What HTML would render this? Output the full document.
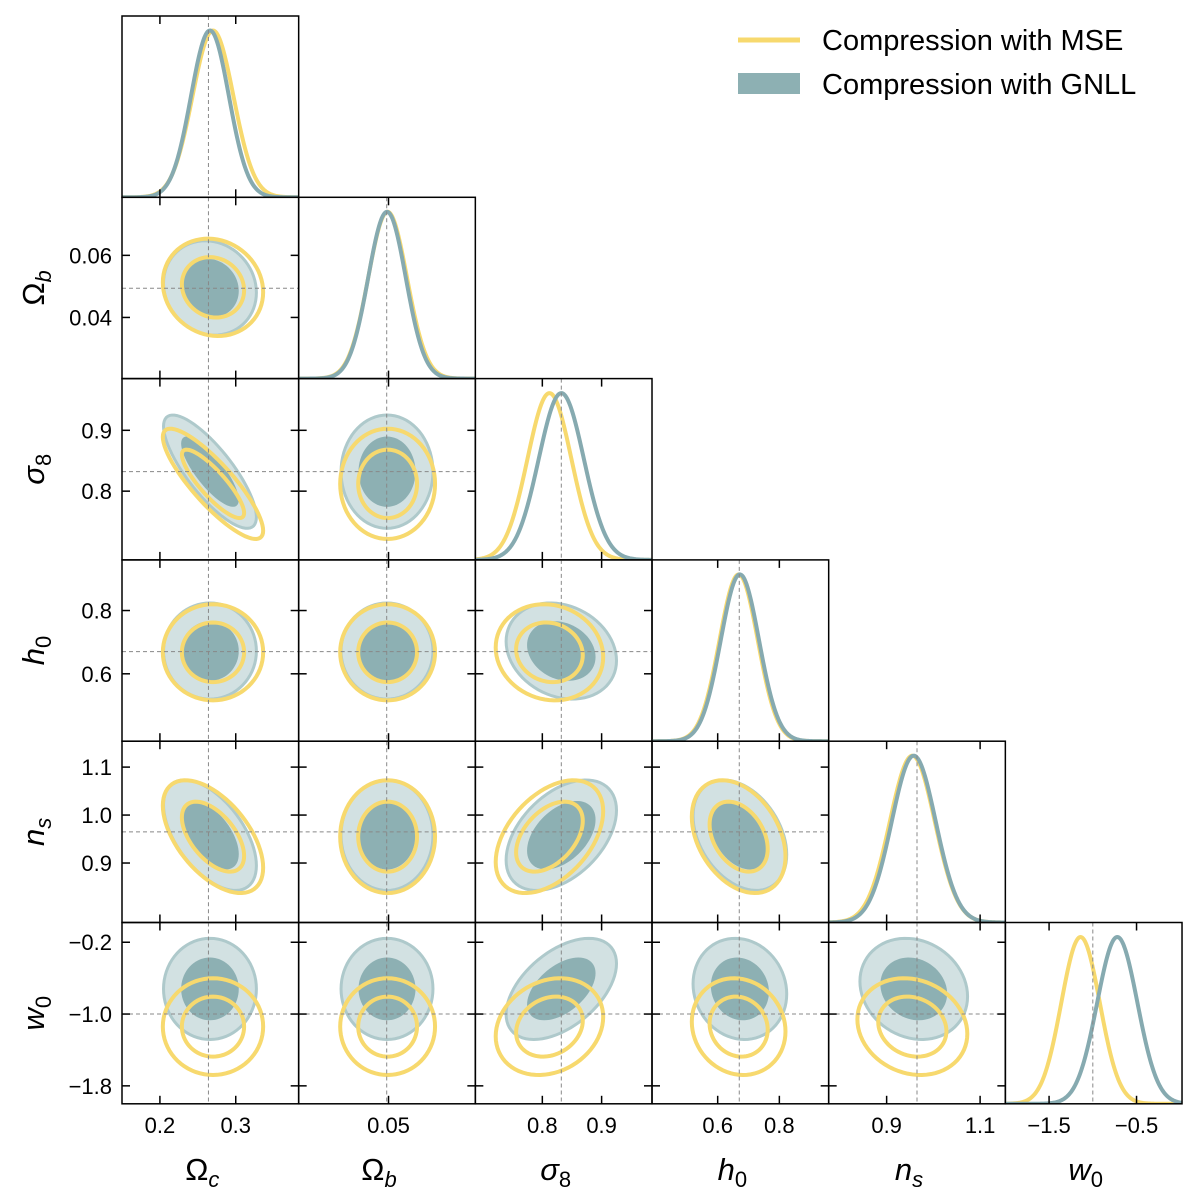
<!DOCTYPE html>
<html><head><meta charset="utf-8"><style>
html,body{margin:0;padding:0;background:#fff;}
svg{display:block;font-family:"Liberation Sans","DejaVu Sans",sans-serif;}
</style></head><body>
<svg id="chart" width="1200" height="1200" viewBox="0 0 1200 1200" xmlns="http://www.w3.org/2000/svg">
<g id="legend">
  <line x1="738" y1="40" x2="800" y2="40" stroke="#f7d96e" stroke-width="5"/>
  <text x="822" y="50" font-size="29" fill="#000">Compression with MSE</text>
  <rect x="738" y="73" width="62" height="21" fill="#8db0b3"/>
  <text x="822" y="94" font-size="29" fill="#000">Compression with GNLL</text>
</g>
</svg>
<script>
const paramNames = ['Omega_c','Omega_b','sigma_8','h_0','n_s','w_0'];
const lo = [0.15, 0.0203, 0.687, 0.387, 0.776, -2.0];
const hi = [0.383, 0.0787, 0.985, 0.96, 1.154, 0.02];
const truth = [0.264, 0.0494, 0.832, 0.67, 0.965, -1.0];
const meanMSE = [0.270, 0.0497, 0.812, 0.668, 0.955, -1.14];
const meanGNLL = [0.266, 0.0495, 0.832, 0.672, 0.958, -0.72];
const sigMSE = [0.027, 0.0064, 0.037, 0.062, 0.048, 0.22];
const sigGNLL = [0.025, 0.0062, 0.038, 0.062, 0.047, 0.23];
// lower-triangle correlations [row][col]
const corrMSE = [
  [],
  [-0.1],
  [-0.85, 0.0],
  [0.0, 0.0, -0.1],
  [-0.55, 0.0, 0.45, -0.35],
  [0.0, 0.0, 0.2, -0.1, -0.15]
];
const corrGNLL = [
  [],
  [-0.1],
  [-0.8, 0.0],
  [0.0, 0.0, -0.2],
  [-0.55, 0.0, 0.45, -0.35],
  [0.0, 0.0, 0.5, -0.1, -0.15]
];
const xTicks = [[0.2,0.3],[0.05],[0.8,0.9],[0.6,0.8],[0.9,1.1],[-1.5,-0.5]];
const xTickLabels = [['0.2','0.3'],['0.05'],['0.8','0.9'],['0.6','0.8'],['0.9','1.1'],['\u22121.5','\u22120.5']];
const yTicks = [[],[0.04,0.06],[0.8,0.9],[0.6,0.8],[0.9,1.0,1.1],[-1.8,-1.0,-0.2]];
const yTickLabels = [[],['0.04','0.06'],['0.8','0.9'],['0.6','0.8'],['0.9','1.0','1.1'],['\u22121.8','\u22121.0','\u22120.2']];
const axisSymbols = [['\u03A9','c',false],['\u03A9','b',false],['\u03C3','8',true],['h','0',true],['n','s',true],['w','0',true]];

const NS='http://www.w3.org/2000/svg';
const svg=document.getElementById('chart');
const L=122, T=16, W=176.67, H=181.3, N=6;
function mk(tag, attrs, parent){const e=document.createElementNS(NS,tag);for(const k in attrs)e.setAttribute(k,attrs[k]);(parent||svg).appendChild(e);return e;}
function xpix(j,v){return L+j*W+(v-lo[j])/(hi[j]-lo[j])*W;}
function ypix(i,v){return T+i*H+H-(v-lo[i])/(hi[i]-lo[i])*H;}
function ellipsePath(i,j,mean,sig,rho,k){
  let d='';
  for(let s=0;s<=72;s++){const t=s/72*2*Math.PI;
    const vx=mean[j]+k*sig[j]*Math.cos(t);
    const vy=mean[i]+k*sig[i]*(rho*Math.cos(t)+Math.sqrt(1-rho*rho)*Math.sin(t));
    d+=(s?'L':'M')+xpix(j,vx).toFixed(2)+','+ypix(i,vy).toFixed(2);}
  return d+'Z';
}
function gaussPath(j,mean,sig,y0){
  let d='';
  for(let s=0;s<=200;s++){const v=lo[j]+(hi[j]-lo[j])*s/200;
    const g=Math.exp(-0.5*((v-mean)/sig)**2);
    d+=(s?'L':'M')+xpix(j,v).toFixed(2)+','+(y0+H-g*H*0.92).toFixed(2);}
  return d;
}
const defs=mk('defs',{});
for(let i=0;i<N;i++){
  for(let j=0;j<=i;j++){
    const x0=L+j*W, y0=T+i*H;
    const cp=mk('clipPath',{id:'c'+i+'_'+j},defs);
    mk('rect',{x:x0,y:y0,width:W,height:H},cp);
    const g=mk('g',{'clip-path':'url(#c'+i+'_'+j+')'});
    
    
    if(i===j){
      const pm=mk('path',{d:gaussPath(j,meanMSE[j],sigMSE[j],y0),fill:'none',stroke:'#f7d96e','stroke-width':4},g);
      
      
      const pg=mk('path',{d:gaussPath(j,meanGNLL[j],sigGNLL[j],y0),fill:'none',stroke:'#86aab0','stroke-width':4},g);
      
      
    } else {
      const o=mk('path',{d:ellipsePath(i,j,meanGNLL,sigGNLL,corrGNLL[i][j],2.45),fill:'#d2e1e2',stroke:'#aec9cb','stroke-width':3},g);
      
      
      const inn=mk('path',{d:ellipsePath(i,j,meanGNLL,sigGNLL,corrGNLL[i][j],1.52),fill:'#8db0b3',stroke:'none'},g);
      
      
      const mo=mk('path',{d:ellipsePath(i,j,meanMSE,sigMSE,corrMSE[i][j],2.45),fill:'none',stroke:'#f7d96e','stroke-width':4},g);
      
      
      const mi=mk('path',{d:ellipsePath(i,j,meanMSE,sigMSE,corrMSE[i][j],1.52),fill:'none',stroke:'#f7d96e','stroke-width':4},g);
      
      
      const th=mk('line',{x1:x0,x2:x0+W,y1:ypix(i,truth[i]),y2:ypix(i,truth[i]),stroke:'#888','stroke-width':1,'stroke-dasharray':'4,3'},g);
      
      
    }
    const tv=mk('line',{x1:xpix(j,truth[j]),x2:xpix(j,truth[j]),y1:y0,y2:y0+H,stroke:'#888','stroke-width':1,'stroke-dasharray':'4,3'},g);
    
    
    xTicks[j].forEach(v=>{const xp=xpix(j,v);
      mk('line',{x1:xp,x2:xp,y1:y0+H,y2:y0+H-8,stroke:'#000','stroke-width':1.5});
      mk('line',{x1:xp,x2:xp,y1:y0,y2:y0+8,stroke:'#000','stroke-width':1.5});});
    if(i!==j){yTicks[i].forEach(v=>{const yp=ypix(i,v);
      mk('line',{x1:x0,x2:x0+8,y1:yp,y2:yp,stroke:'#000','stroke-width':1.5});
      mk('line',{x1:x0+W,x2:x0+W-8,y1:yp,y2:yp,stroke:'#000','stroke-width':1.5});});}
    const fr=mk('rect',{x:x0,y:y0,width:W,height:H,fill:'none',stroke:'#000','stroke-width':1.5});
    
    
  }
}
for(let j=0;j<N;j++){
  xTicks[j].forEach((v,k)=>{const t=mk('text',{x:xpix(j,v),y:1133,'font-size':22,'text-anchor':'middle'});t.textContent=xTickLabels[j][k];
    
    });
  const s=axisSymbols[j];
  const t=mk('text',{x:L+j*W+W/2-8,y:1180,'font-size':31,'text-anchor':'middle'});
  
  
  const a=mk('tspan',{'font-style':s[2]?'italic':'normal'},t);a.textContent=s[0];
  const b=mk('tspan',{'font-size':22,dy:7,'font-style':/[a-z]/.test(s[1])?'italic':'normal'},t);b.textContent=s[1];
}
for(let i=1;i<N;i++){
  yTicks[i].forEach((v,k)=>{const t=mk('text',{x:112,y:ypix(i,v)+8,'font-size':22,'text-anchor':'end'});t.textContent=yTickLabels[i][k];
    
    });
  const s=axisSymbols[i];
  const cy=T+i*H+H/2;
  const t=mk('text',{x:0,y:0,'font-size':31,'text-anchor':'middle',transform:'translate(44,'+cy+') rotate(-90)'});
  
  
  const a=mk('tspan',{'font-style':s[2]?'italic':'normal'},t);a.textContent=s[0];
  const b=mk('tspan',{'font-size':22,dy:7,'font-style':/[a-z]/.test(s[1])?'italic':'normal'},t);b.textContent=s[1];
}
svg.appendChild(document.getElementById('legend'));
</script>
</body></html>
